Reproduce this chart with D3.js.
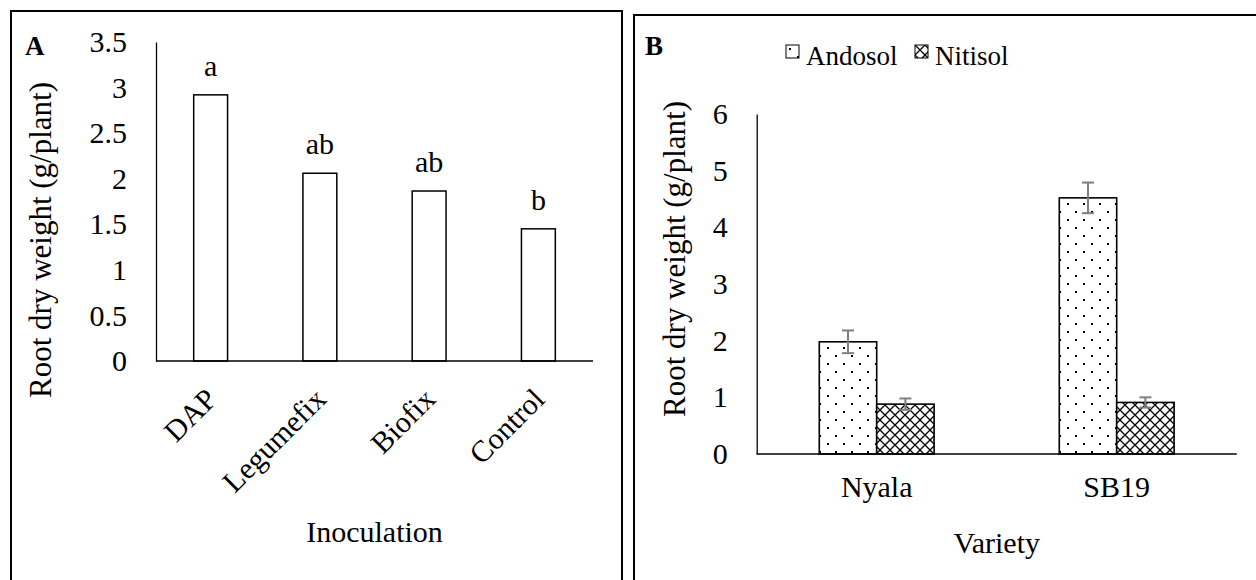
<!DOCTYPE html>
<html>
<head>
<meta charset="utf-8">
<script src="https://cdn.jsdelivr.net/npm/d3@7"></script>
<style>
  body { margin: 0; background: #fff; }
  text { font-family: "Liberation Serif", "Times New Roman", serif; fill: #000; }
</style>
</head>
<body>
<div id="chart"></div>
<script>
// panel A data
var inoculations = ["DAP", "Legumefix", "Biofix", "Control"];
var rootWeightA = [2.92, 2.06, 1.865, 1.45];
var lettersA = ["a", "ab", "ab", "b"];
var ticksA = [0, 0.5, 1, 1.5, 2, 2.5, 3, 3.5];

// panel B data
var varieties = ["Nyala", "SB19"];
var soils = ["Andosol", "Nitisol"];
var andosolValues = [1.98, 4.52];
var nitisolValues = [0.88, 0.91];
var andosolErr = [0.2, 0.27];
var nitisolErr = [0.1, 0.09];
var ticksB = [0, 1, 2, 3, 4, 5, 6];

var FS = 30;

function init() {
    var width = 1256, height = 580;
    var svg = d3.select("#chart").append("svg")
      .attr("width", width).attr("height", height);

    // patterns for panel B
    var defs = svg.append("defs");
    var dots = defs.append("pattern").attr("id", "dots")
      .attr("patternUnits", "userSpaceOnUse").attr("width", 16).attr("height", 16);
    dots.append("rect").attr("width", 16).attr("height", 16).attr("fill", "#fff");
    dots.append("rect").attr("x", 3).attr("y", 3).attr("width", 2).attr("height", 2).attr("fill", "#000");
    dots.append("rect").attr("x", 11).attr("y", 11).attr("width", 2).attr("height", 2).attr("fill", "#000");

    var hatch = defs.append("pattern").attr("id", "hatch")
      .attr("patternUnits", "userSpaceOnUse").attr("width", 10).attr("height", 10);
    hatch.append("rect").attr("width", 10).attr("height", 10).attr("fill", "#fff");
    hatch.append("path").attr("d", "M0,0L10,10M10,0L0,10M-5,5L5,15M5,-5L15,5M-5,5L5,-5M5,15L15,5")
      .attr("stroke", "#000").attr("stroke-width", 1.3);

    // frames
    svg.append("rect").attr("x", 11).attr("y", 11).attr("width", 611).attr("height", 600)
      .attr("fill", "none").attr("stroke", "#000").attr("stroke-width", 2);
    svg.append("rect").attr("x", 634).attr("y", 15).attr("width", 640).attr("height", 600)
      .attr("fill", "none").attr("stroke", "#000").attr("stroke-width", 2);

    panelA(svg);
    panelB(svg);
}

function panelA(svg) {
    var x0 = 156, x1 = 593, yTop = 42, yBase = 361;
    var xScale = d3.scaleBand().domain(inoculations).range([x0, x1]).paddingInner(0.69).paddingOuter(0.345);
    var yScale = d3.scaleLinear().domain([0, 3.5]).range([yBase, yTop]);

    var g = svg.append("g");
    var yAxis = d3.axisLeft(yScale).tickValues(ticksA).tickSize(0).tickPadding(29)
      .tickFormat(function(d) { return d; });
    var ya = g.append("g").attr("transform", "translate(" + x0 + ",0)").call(yAxis);
    ya.attr("font-family", null).attr("font-size", null);
    ya.select(".domain").attr("stroke", "#000").attr("stroke-width", 1.3);
    ya.selectAll("text").attr("font-size", FS);

    var data = inoculations.map(function(d, i) { return { name: d, v: rootWeightA[i], l: lettersA[i] }; });

    g.selectAll(".barA").data(data).enter().append("rect")
      .attr("class", "barA")
      .attr("x", function(d) { return xScale(d.name); })
      .attr("y", function(d) { return yScale(d.v); })
      .attr("width", xScale.bandwidth())
      .attr("height", function(d) { return yBase - yScale(d.v); })
      .attr("fill", "#fff").attr("stroke", "#000").attr("stroke-width", 1.5);

    g.selectAll(".letterA").data(data).enter().append("text")
      .attr("x", function(d) { return xScale(d.name) + xScale.bandwidth() / 2; })
      .attr("y", function(d) { return yScale(d.v) - 19; })
      .attr("text-anchor", "middle").attr("font-size", FS)
      .text(function(d) { return d.l; });

    g.append("line").attr("x1", x0).attr("x2", x1).attr("y1", yBase).attr("y2", yBase)
      .attr("stroke", "#000").attr("stroke-width", 1.3);

    g.selectAll(".catA").data(data).enter().append("text")
      .attr("transform", function(d) {
        var cx = xScale(d.name) + xScale.bandwidth() / 2;
        return "translate(" + (cx + 8) + "," + (yBase + 40) + ") rotate(-45)";
      })
      .attr("text-anchor", "end").attr("font-size", FS)
      .text(function(d) { return d.name; });

    g.append("text").attr("x", (x0 + x1) / 2).attr("y", 542)
      .attr("text-anchor", "middle").attr("font-size", FS).text("Inoculation");

    g.append("text").attr("transform", "translate(51,240) rotate(-90)")
      .attr("text-anchor", "middle").attr("font-size", 31).text("Root dry weight (g/plant)");

    g.append("text").attr("x", 25).attr("y", 55).attr("font-size", 27).attr("font-weight", "bold").text("A");
}

function panelB(svg) {
    var x0 = 756.7, x1 = 1236.7, yTop = 114, yBase = 454;
    var xScale = d3.scaleBand().domain(varieties).range([x0, x1]);
    var xSub = d3.scaleBand().domain(soils).range([0, xScale.bandwidth()]).paddingInner(0).paddingOuter(1.09);
    var yScale = d3.scaleLinear().domain([0, 6]).range([yBase, yTop]);

    var g = svg.append("g");
    var yAxis = d3.axisLeft(yScale).tickValues(ticksB).tickSize(0).tickPadding(29)
      .tickFormat(d3.format("d"));
    var ya = g.append("g").attr("transform", "translate(" + x0 + ",0)").call(yAxis);
    ya.attr("font-family", null).attr("font-size", null);
    ya.select(".domain").attr("stroke", "#000").attr("stroke-width", 1.3);
    ya.selectAll("text").attr("font-size", FS);

    var fills = { "Andosol": "url(#dots)", "Nitisol": "url(#hatch)" };
    var rows = [];
    varieties.forEach(function(v, i) {
      rows.push({ variety: v, soil: "Andosol", v: andosolValues[i], e: andosolErr[i] });
      rows.push({ variety: v, soil: "Nitisol", v: nitisolValues[i], e: nitisolErr[i] });
    });

    g.selectAll(".barB").data(rows).enter().append("rect")
      .attr("class", "barB")
      .attr("x", function(d) { return xScale(d.variety) + xSub(d.soil); })
      .attr("y", function(d) { return yScale(d.v); })
      .attr("width", xSub.bandwidth())
      .attr("height", function(d) { return yBase - yScale(d.v); })
      .attr("fill", function(d) { return fills[d.soil]; })
      .attr("stroke", "#000").attr("stroke-width", 1.6);

    g.append("line").attr("x1", x0).attr("x2", x1).attr("y1", yBase).attr("y2", yBase)
      .attr("stroke", "#000").attr("stroke-width", 1.3);

    var err = g.selectAll(".err").data(rows).enter().append("g").attr("class", "err")
      .attr("stroke", "#7f7f7f").attr("stroke-width", 2);
    err.append("line")
      .attr("x1", function(d) { return xScale(d.variety) + xSub(d.soil) + xSub.bandwidth() / 2; })
      .attr("x2", function(d) { return xScale(d.variety) + xSub(d.soil) + xSub.bandwidth() / 2; })
      .attr("y1", function(d) { return yScale(d.v + d.e); })
      .attr("y2", function(d) { return yScale(d.v - d.e); });
    [1, -1].forEach(function(s) {
      err.append("line")
        .attr("x1", function(d) { return xScale(d.variety) + xSub(d.soil) + xSub.bandwidth() / 2 - 6; })
        .attr("x2", function(d) { return xScale(d.variety) + xSub(d.soil) + xSub.bandwidth() / 2 + 6; })
        .attr("y1", function(d) { return yScale(d.v + s * d.e); })
        .attr("y2", function(d) { return yScale(d.v + s * d.e); });
    });

    g.selectAll(".catB").data(varieties).enter().append("text")
      .attr("x", function(d) { return xScale(d) + xScale.bandwidth() / 2; })
      .attr("y", 497).attr("text-anchor", "middle").attr("font-size", FS)
      .text(function(d) { return d; });

    g.append("text").attr("x", (x0 + x1) / 2).attr("y", 553)
      .attr("text-anchor", "middle").attr("font-size", FS).text("Variety");

    g.append("text").attr("transform", "translate(685,259) rotate(-90)")
      .attr("text-anchor", "middle").attr("font-size", 31).text("Root dry weight (g/plant)");

    g.append("text").attr("x", 645).attr("y", 55).attr("font-size", 27).attr("font-weight", "bold").text("B");

    // legend
    var legendX = [786, 915];
    var leg = g.selectAll(".leg").data(soils).enter().append("g")
      .attr("transform", function(d, i) { return "translate(" + legendX[i] + ",45)"; });
    leg.append("rect").attr("width", 13).attr("height", 13)
      .attr("fill", function(d) { return fills[d]; })
      .attr("stroke", "#000").attr("stroke-width", 1);
    leg.append("text").attr("x", 20).attr("y", 20).attr("font-size", 27)
      .text(function(d) { return d; });
}

window.onload = init;
</script>
</body>
</html>
